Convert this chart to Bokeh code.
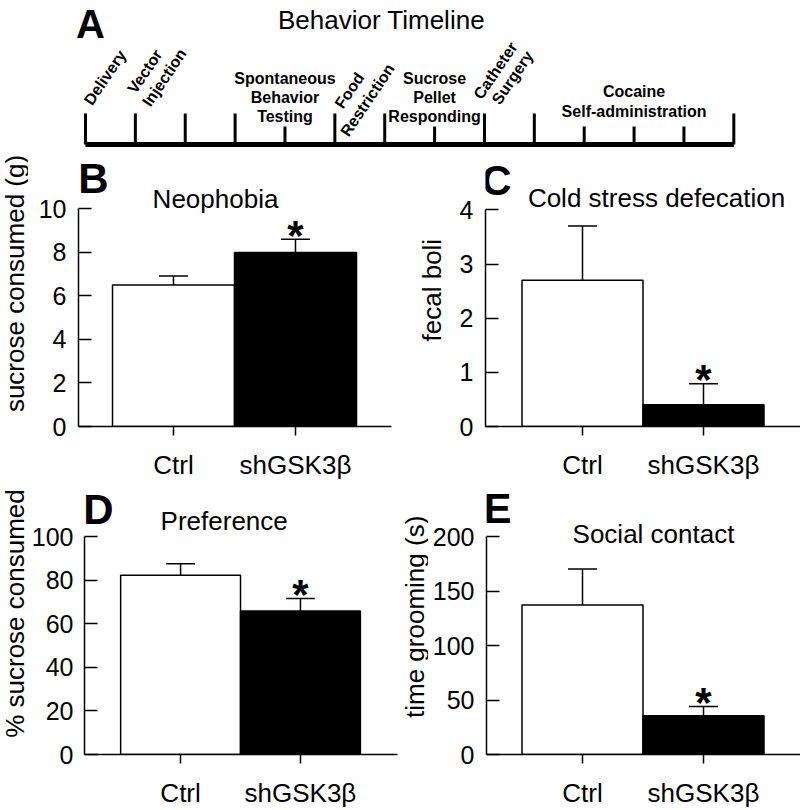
import math
from bokeh.plotting import figure
from bokeh.layouts import column, row
from bokeh.models import Range1d, FixedTicker
from bokeh.core.properties import value
from bokeh.embed import file_html
from bokeh.resources import INLINE

FONT = "Liberation Sans"

# ---------------- data ----------------
groups = ["Ctrl", "shGSK3β"]
group_pos = [1, 2]
significant = [False, True]

neophobia_mean = [6.5, 8.0]
neophobia_sem = [0.42, 0.6]
defecation_mean = [2.7, 0.4]
defecation_sem = [1.0, 0.39]
preference_mean = [82.4, 65.9]
preference_sem = [5.3, 5.8]
grooming_mean = [137.5, 35.7]
grooming_sem = [33.0, 8.5]

neophobia_ticks = [0, 2, 4, 6, 8, 10]
defecation_ticks = [0, 1, 2, 3, 4]
preference_ticks = [0, 20, 40, 60, 80, 100]
grooming_ticks = [0, 50, 100, 150, 200]

timeline_weeks = list(range(14))
timeline_tall = [True, True, True, True, False, True, True, False, True, True, False, False, False, True]

rotated_events_week = [0, 1, 5, 8]
rotated_events_lines = [["Delivery"], ["Vector", "Injection"], ["Food", "Restriction"], ["Catheter", "Surgery"]]
block_events_week = [4, 7, 11]
block_events_lines = [["Spontaneous", "Behavior", "Testing"],
                      ["Sucrose", "Pellet", "Responding"],
                      ["Cocaine", "Self-administration"]]

# ---------------- layout constants (page pixels) ----------------
TL_H = 150
TL_X0 = 85.0       # page x of week 0
TL_STEP = 49.87    # px per week
TL_BASE = 144      # main line y
TL_TALL_TOP = 113
TL_SHORT_TOP = 126
ROT = math.radians(56)
rot_offsets = [[(19.5, 77)], [(9.5, 71), (29, 77)], [(14.6, 90), (32.6, 99.5)], [(11, 70), (28, 77)]]
block_line_y = [[77.5, 96.5, 115.5], [77.5, 97, 116], [91, 111]]


def tl_x(px):
    return (px - TL_X0) / TL_STEP


tl = figure(width=800, height=TL_H, x_range=Range1d(tl_x(0), tl_x(800)),
            y_range=Range1d(TL_H, 0), output_backend="svg", toolbar_location=None,
            x_axis_location=None, y_axis_location=None, min_border=0)
tl.grid.visible = False
tl.outline_line_color = None

tl.segment(x0=[min(timeline_weeks)], y0=[TL_BASE], x1=[max(timeline_weeks)], y1=[TL_BASE],
           line_color="black", line_width=5)
tick_tops = [TL_TALL_TOP if t else TL_SHORT_TOP for t in timeline_tall]
tl.segment(x0=timeline_weeks, y0=[TL_BASE] * len(timeline_weeks), x1=timeline_weeks, y1=tick_tops,
           line_color="black", line_width=3)

rx, ry, rt = [], [], []
for wk, lines, offs in zip(rotated_events_week, rotated_events_lines, rot_offsets):
    for ln, (ox_, oy_) in zip(lines, offs):
        rx.append(wk + ox_ / TL_STEP)
        ry.append(oy_)
        rt.append(ln)
tl.text(x=rx, y=ry, text=rt, angle=ROT, text_font=value(FONT), text_font_style="bold",
        text_font_size="16px", text_align="center", text_baseline="middle", text_color="black")

bx, by, bt = [], [], []
for wk, lines, ys in zip(block_events_week, block_events_lines, block_line_y):
    for ln, yy in zip(lines, ys):
        bx.append(wk)
        by.append(yy)
        bt.append(ln)
tl.text(x=bx, y=by, text=bt, text_font=value(FONT), text_font_style="bold",
        text_font_size="16px", text_align="center", text_baseline="middle", text_color="black")

tl.text(x=[tl_x(381)], y=[19], text=["Behavior Timeline"], text_font=value(FONT),
        text_font_size="26px", text_align="center", text_baseline="middle", text_color="black")
tl.text(x=[tl_x(90)], y=[23], text=["A"], text_font=value(FONT), text_font_style="bold",
        text_font_size="40px", text_align="center", text_baseline="middle", text_color="black")

# page y of the top of each y axis (value ymax)
T_AXIS = {"B": 209, "C": 210, "D": 537, "E": 537}


def ylabel_fig(ox, oy, w, h, text, cx, cy):
    f = figure(width=w, height=h, x_range=Range1d(ox, ox + w), y_range=Range1d(oy + h, oy),
               output_backend="svg", toolbar_location=None,
               x_axis_location=None, y_axis_location=None, min_border=0)
    f.grid.visible = False
    f.outline_line_color = None
    f.text(x=[cx], y=[cy], text=[text], angle=math.pi / 2, text_font=value(FONT),
           text_font_size="26px", text_align="center", text_baseline="middle", text_color="black")
    return f


def panel(ox, oy, w, h, L, B, axis_right, c1, ux, ymax, yticks, means, sems,
          title, title_c, letter, letter_c, xstandoff, ystandoff):
    R, T = ox + w, oy
    ppu = (B - T_AXIS[letter]) / ymax

    def dx(px):
        return 1 + (px - c1) / ux

    def dy(py):
        return (B - py) / ppu

    p = figure(width=w, height=h, x_range=Range1d(dx(L), dx(R)), y_range=Range1d(0, dy(T)),
               output_backend="svg", toolbar_location=None,
               min_border_left=L - ox, min_border_right=0,
               min_border_top=0, min_border_bottom=oy + h - B)
    p.grid.visible = False
    p.outline_line_color = None

    p.vbar(x=group_pos, top=means, bottom=0, width=1.0, fill_color=["white", "black"],
           line_color="black", line_width=1.5)
    tops = [m + s for m, s in zip(means, sems)]
    cw = 29 / ux
    p.segment(x0=group_pos, y0=means, x1=group_pos, y1=tops, line_color="black", line_width=1.5)
    p.segment(x0=[g - cw / 2 for g in group_pos], y0=tops, x1=[g + cw / 2 for g in group_pos], y1=tops,
              line_color="black", line_width=1.5)
    sx = [g for g, s in zip(group_pos, significant) if s]
    sy = [t + 4 / ppu for t, s in zip(tops, significant) if s]
    p.text(x=sx, y=sy, text=["*"] * len(sx), text_font=value(FONT), text_font_style="bold",
           text_font_size="42px", text_align="center", text_baseline="alphabetic", text_color="black")

    p.text(x=[dx(title_c[0])], y=[dy(title_c[1])], text=[title], text_font=value(FONT),
           text_font_size="26px", text_align="center", text_baseline="middle", text_color="black")
    p.text(x=[dx(letter_c[0])], y=[dy(letter_c[1])], text=[letter], text_font=value(FONT),
           text_font_style="bold", text_font_size="42px", text_align="center",
           text_baseline="middle", text_color="black")

    p.xaxis.ticker = FixedTicker(ticks=group_pos)
    p.xaxis.bounds = (dx(L), dx(axis_right))
    p.xaxis.major_label_overrides = {g: n for g, n in zip(group_pos, groups)}
    p.xaxis.major_tick_in = 0
    p.xaxis.major_tick_out = 9
    p.xaxis.major_label_standoff = xstandoff
    p.xaxis.major_label_text_font_size = "26px"
    p.yaxis.ticker = FixedTicker(ticks=yticks)
    p.yaxis.bounds = (0, ymax)
    p.yaxis.major_tick_in = 13
    p.yaxis.major_tick_out = 0
    p.yaxis.major_label_standoff = ystandoff
    p.yaxis.major_label_text_font_size = "25px"
    for ax in (p.xaxis, p.yaxis):
        ax.minor_tick_line_color = None
        ax.axis_line_color = "black"
        ax.axis_line_width = 1.5
        ax.major_tick_line_color = "black"
        ax.major_tick_line_width = 1.5
        ax.major_label_text_font = FONT
        ax.major_label_text_color = "black"
    return p


H1 = 482 - TL_H
H2 = 810 - 482

lB = ylabel_fig(0, TL_H, 28, H1, "sucrose consumed (g)", 14, 310)
pB = panel(28, TL_H, 372, H1, 78, 429, 391, 173, 122, 10, neophobia_ticks,
           neophobia_mean, neophobia_sem, "Neophobia", (215, 199), "B", (93, 178), 14, 12)
lC = ylabel_fig(400, TL_H, 50, H1, "fecal boli", 431, 318)
pC = panel(450, TL_H, 350, H1, 485, 429, 800, 582, 121, 4, defecation_ticks,
           defecation_mean, defecation_sem, "Cold stress defecation", (656, 198), "C", (496, 180), 14, 12)
lD = ylabel_fig(0, 482, 28, H2, "% sucrose consumed", 14, 640)
pD = panel(28, 482, 372, H2, 81, 757, 397, 178, 121, 100, preference_ticks,
           preference_mean, preference_sem, "Preference", (222, 521), "D", (95, 509), 14, 11)
lE = ylabel_fig(400, 482, 28, H2, "time grooming (s)", 414, 644)
pE = panel(428, 482, 372, H2, 486, 757, 800, 582, 121, 200, grooming_ticks,
           grooming_mean, grooming_sem, "Social contact", (653, 534), "E", (497, 508), 14, 12)

layout = column(tl, row(lB, pB, lC, pC, spacing=0), row(lD, pD, lE, pE, spacing=0), spacing=0)

with open("out.html", "w") as f:
    f.write(file_html(layout, INLINE))
